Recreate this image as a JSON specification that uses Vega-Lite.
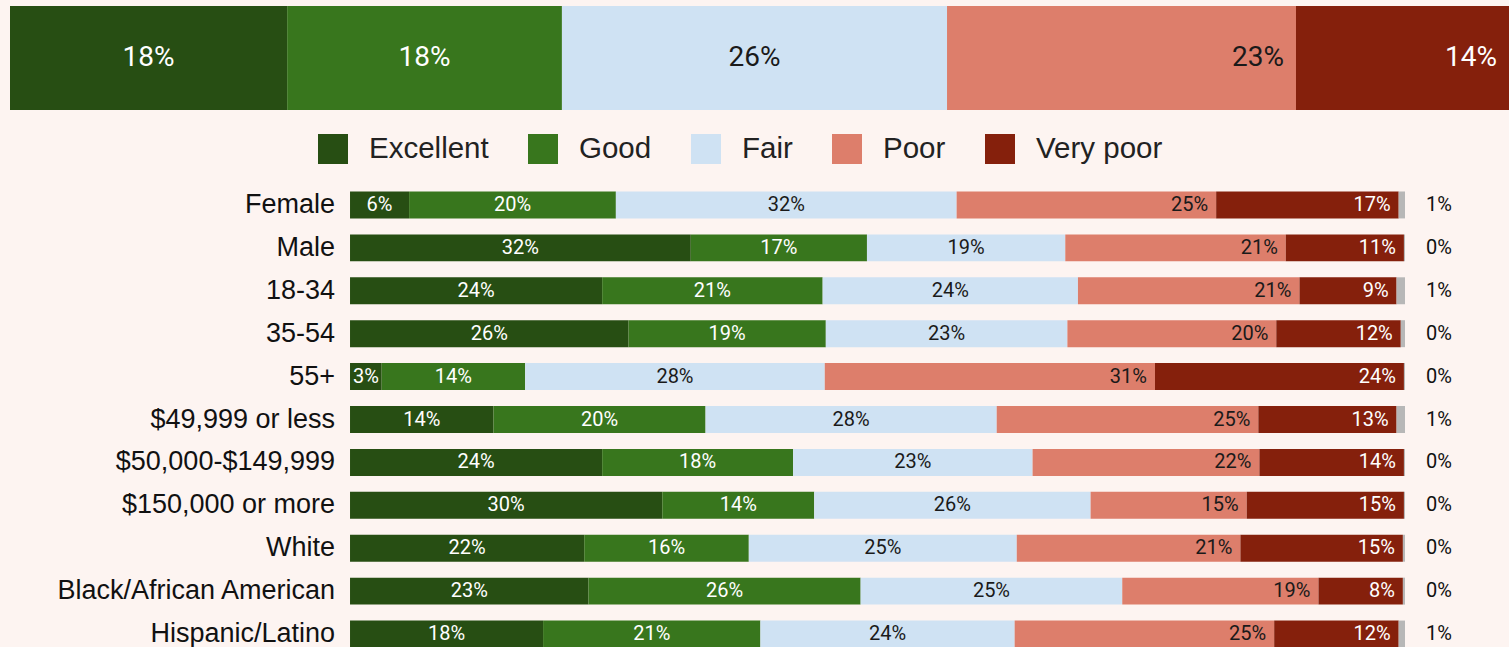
{
  "$schema": "https://vega.github.io/schema/vega-lite/v6.json",
  "background": "#fdf4f1",
  "padding": {"left": 10, "top": 6, "right": 0, "bottom": 0},
  "spacing": 19.5,
  "config": {"view": {"stroke": null}, "font": "Roboto"},
  "resolve": {"scale": {"x": "independent", "y": "independent", "color": "shared"}, "legend": {"color": "independent"}},
  "datasets": {
    "overall": [
      {"group": "Overall", "cat": "Excellent", "order": 1, "pct": 0.1849},
      {"group": "Overall", "cat": "Good", "order": 2, "pct": 0.1833},
      {"group": "Overall", "cat": "Fair", "order": 3, "pct": 0.2569},
      {"group": "Overall", "cat": "Poor", "order": 4, "pct": 0.2328},
      {"group": "Overall", "cat": "Very poor", "order": 5, "pct": 0.1421}
    ],
    "groups": [
      {"group": "Female", "cat": "Excellent", "order": 1, "pct": 0.056},
      {"group": "Female", "cat": "Good", "order": 2, "pct": 0.196},
      {"group": "Female", "cat": "Fair", "order": 3, "pct": 0.323},
      {"group": "Female", "cat": "Poor", "order": 4, "pct": 0.246},
      {"group": "Female", "cat": "Very poor", "order": 5, "pct": 0.173},
      {"group": "Female", "cat": "Don't know", "order": 6, "pct": 0.006},
      {"group": "Male", "cat": "Excellent", "order": 1, "pct": 0.323},
      {"group": "Male", "cat": "Good", "order": 2, "pct": 0.167},
      {"group": "Male", "cat": "Fair", "order": 3, "pct": 0.188},
      {"group": "Male", "cat": "Poor", "order": 4, "pct": 0.209},
      {"group": "Male", "cat": "Very poor", "order": 5, "pct": 0.112},
      {"group": "Male", "cat": "Don't know", "order": 6, "pct": 0.001},
      {"group": "18-34", "cat": "Excellent", "order": 1, "pct": 0.239},
      {"group": "18-34", "cat": "Good", "order": 2, "pct": 0.209},
      {"group": "18-34", "cat": "Fair", "order": 3, "pct": 0.242},
      {"group": "18-34", "cat": "Poor", "order": 4, "pct": 0.210},
      {"group": "18-34", "cat": "Very poor", "order": 5, "pct": 0.092},
      {"group": "18-34", "cat": "Don't know", "order": 6, "pct": 0.008},
      {"group": "35-54", "cat": "Excellent", "order": 1, "pct": 0.264},
      {"group": "35-54", "cat": "Good", "order": 2, "pct": 0.187},
      {"group": "35-54", "cat": "Fair", "order": 3, "pct": 0.229},
      {"group": "35-54", "cat": "Poor", "order": 4, "pct": 0.198},
      {"group": "35-54", "cat": "Very poor", "order": 5, "pct": 0.118},
      {"group": "35-54", "cat": "Don't know", "order": 6, "pct": 0.004},
      {"group": "55+", "cat": "Excellent", "order": 1, "pct": 0.030},
      {"group": "55+", "cat": "Good", "order": 2, "pct": 0.136},
      {"group": "55+", "cat": "Fair", "order": 3, "pct": 0.284},
      {"group": "55+", "cat": "Poor", "order": 4, "pct": 0.313},
      {"group": "55+", "cat": "Very poor", "order": 5, "pct": 0.236},
      {"group": "55+", "cat": "Don't know", "order": 6, "pct": 0.001},
      {"group": "$49,999 or less", "cat": "Excellent", "order": 1, "pct": 0.136},
      {"group": "$49,999 or less", "cat": "Good", "order": 2, "pct": 0.201},
      {"group": "$49,999 or less", "cat": "Fair", "order": 3, "pct": 0.276},
      {"group": "$49,999 or less", "cat": "Poor", "order": 4, "pct": 0.248},
      {"group": "$49,999 or less", "cat": "Very poor", "order": 5, "pct": 0.131},
      {"group": "$49,999 or less", "cat": "Don't know", "order": 6, "pct": 0.008},
      {"group": "$50,000-$149,999", "cat": "Excellent", "order": 1, "pct": 0.239},
      {"group": "$50,000-$149,999", "cat": "Good", "order": 2, "pct": 0.181},
      {"group": "$50,000-$149,999", "cat": "Fair", "order": 3, "pct": 0.227},
      {"group": "$50,000-$149,999", "cat": "Poor", "order": 4, "pct": 0.215},
      {"group": "$50,000-$149,999", "cat": "Very poor", "order": 5, "pct": 0.137},
      {"group": "$50,000-$149,999", "cat": "Don't know", "order": 6, "pct": 0.001},
      {"group": "$150,000 or more", "cat": "Excellent", "order": 1, "pct": 0.296},
      {"group": "$150,000 or more", "cat": "Good", "order": 2, "pct": 0.144},
      {"group": "$150,000 or more", "cat": "Fair", "order": 3, "pct": 0.262},
      {"group": "$150,000 or more", "cat": "Poor", "order": 4, "pct": 0.148},
      {"group": "$150,000 or more", "cat": "Very poor", "order": 5, "pct": 0.149},
      {"group": "$150,000 or more", "cat": "Don't know", "order": 6, "pct": 0.001},
      {"group": "White", "cat": "Excellent", "order": 1, "pct": 0.222},
      {"group": "White", "cat": "Good", "order": 2, "pct": 0.156},
      {"group": "White", "cat": "Fair", "order": 3, "pct": 0.254},
      {"group": "White", "cat": "Poor", "order": 4, "pct": 0.212},
      {"group": "White", "cat": "Very poor", "order": 5, "pct": 0.154},
      {"group": "White", "cat": "Don't know", "order": 6, "pct": 0.002},
      {"group": "Black/African American", "cat": "Excellent", "order": 1, "pct": 0.226},
      {"group": "Black/African American", "cat": "Good", "order": 2, "pct": 0.258},
      {"group": "Black/African American", "cat": "Fair", "order": 3, "pct": 0.248},
      {"group": "Black/African American", "cat": "Poor", "order": 4, "pct": 0.186},
      {"group": "Black/African American", "cat": "Very poor", "order": 5, "pct": 0.080},
      {"group": "Black/African American", "cat": "Don't know", "order": 6, "pct": 0.002},
      {"group": "Hispanic/Latino", "cat": "Excellent", "order": 1, "pct": 0.183},
      {"group": "Hispanic/Latino", "cat": "Good", "order": 2, "pct": 0.206},
      {"group": "Hispanic/Latino", "cat": "Fair", "order": 3, "pct": 0.241},
      {"group": "Hispanic/Latino", "cat": "Poor", "order": 4, "pct": 0.246},
      {"group": "Hispanic/Latino", "cat": "Very poor", "order": 5, "pct": 0.118},
      {"group": "Hispanic/Latino", "cat": "Don't know", "order": 6, "pct": 0.006}
    ]
  },
  "vconcat": [
    {
      "width": 1499,
      "height": 104,
      "data": {"name": "overall"},
      "transform": [
        {"stack": "pct", "groupby": ["group"], "sort": [{"field": "order"}], "as": ["x0", "x1"]},
        {"calculate": "(datum.x0 + datum.x1) / 2", "as": "mid"}
      ],
      "encoding": {
        "y": {"field": "group", "type": "nominal", "axis": null, "scale": {"paddingInner": 0, "paddingOuter": 0}}
      },
      "layer": [
        {
          "mark": {"type": "bar"},
          "encoding": {
            "x": {"field": "x0", "type": "quantitative", "scale": {"domain": [0, 1], "nice": false}, "axis": null},
            "x2": {"field": "x1"},
            "color": {
              "field": "cat",
              "type": "nominal",
              "scale": {
                "domain": ["Excellent", "Good", "Fair", "Poor", "Very poor", "Don't know"],
                "range": ["#274e13", "#38761d", "#cfe2f3", "#dd7e6b", "#85200c", "#b7b7b7"]
              },
              "legend": {
                "title": null,
                "orient": "none",
                "direction": "horizontal",
                "legendX": 308,
                "legendY": 128,
                "padding": 0,
                "values": ["Excellent", "Good", "Fair", "Poor", "Very poor"],
                "symbolType": "square",
                "symbolSize": 900,
                "symbolStrokeWidth": 0,
                "symbolOpacity": 1,
                "labelFont": "Liberation Sans",
                "labelFontSize": 29.5,
                "labelColor": "#222222",
                "labelOffset": 21,
                "columnPadding": 39
              }
            }
          }
        },
        {
          "transform": [{"filter": "datum.order <= 3"}],
          "mark": {"type": "text", "font": "Roboto", "fontSize": 28},
          "encoding": {
            "x": {"field": "mid", "type": "quantitative"},
            "text": {"field": "pct", "type": "quantitative", "format": ".0%"},
            "color": {"condition": {"test": "datum.cat === 'Fair' || datum.cat === 'Poor'", "value": "#1a1a1a"}, "value": "#ffffff"}
          }
        },
        {
          "transform": [{"filter": "datum.order >= 4"}],
          "mark": {"type": "text", "font": "Roboto", "fontSize": 28, "align": "right", "dx": -12},
          "encoding": {
            "x": {"field": "x1", "type": "quantitative"},
            "text": {"field": "pct", "type": "quantitative", "format": ".0%"},
            "color": {"condition": {"test": "datum.cat === 'Fair' || datum.cat === 'Poor'", "value": "#1a1a1a"}, "value": "#ffffff"}
          }
        }
      ]
    },
    {
      "width": 1395,
      "height": 472,
      "data": {"name": "groups"},
      "transform": [
        {"stack": "pct", "groupby": ["group"], "sort": [{"field": "order"}], "as": ["x0", "x1"]},
        {"calculate": "(datum.x0 + datum.x1) / 2", "as": "mid"}
      ],
      "encoding": {
        "y": {
          "field": "group",
          "type": "nominal",
          "sort": ["Female", "Male", "18-34", "35-54", "55+", "$49,999 or less", "$50,000-$149,999", "$150,000 or more", "White", "Black/African American", "Hispanic/Latino"],
          "scale": {"paddingInner": 0.372, "paddingOuter": 0.186},
          "axis": null
        }
      },
      "layer": [
        {
          "mark": {"type": "bar"},
          "encoding": {
            "x": {"field": "x0", "type": "quantitative", "scale": {"domain": [-0.3223, 1], "nice": false, "zero": false}, "axis": null},
            "x2": {"field": "x1"},
            "color": {"field": "cat", "type": "nominal", "legend": null}
          }
        },
        {
          "transform": [{"filter": "datum.order == 1"}],
          "mark": {"type": "text", "font": "Liberation Sans", "fontSize": 27, "align": "right", "dx": -15, "color": "#111111"},
          "encoding": {
            "x": {"datum": 0, "type": "quantitative"},
            "text": {"field": "group", "type": "nominal"}
          }
        },
        {
          "transform": [{"filter": "datum.order <= 3"}],
          "mark": {"type": "text", "font": "Roboto", "fontSize": 20},
          "encoding": {
            "x": {"field": "mid", "type": "quantitative"},
            "text": {"field": "pct", "type": "quantitative", "format": ".0%"},
            "color": {"condition": {"test": "datum.cat === 'Fair' || datum.cat === 'Poor'", "value": "#1a1a1a"}, "value": "#ffffff"}
          }
        },
        {
          "transform": [{"filter": "datum.order == 4 || datum.order == 5"}],
          "mark": {"type": "text", "font": "Roboto", "fontSize": 20, "align": "right", "dx": -8},
          "encoding": {
            "x": {"field": "x1", "type": "quantitative"},
            "text": {"field": "pct", "type": "quantitative", "format": ".0%"},
            "color": {"condition": {"test": "datum.cat === 'Fair' || datum.cat === 'Poor'", "value": "#1a1a1a"}, "value": "#ffffff"}
          }
        },
        {
          "transform": [{"filter": "datum.order == 6"}],
          "mark": {"type": "text", "font": "Roboto", "fontSize": 20, "align": "left", "dx": 21, "color": "#111111"},
          "encoding": {
            "x": {"datum": 1, "type": "quantitative"},
            "text": {"field": "pct", "type": "quantitative", "format": ".0%"}
          }
        }
      ]
    }
  ]
}
